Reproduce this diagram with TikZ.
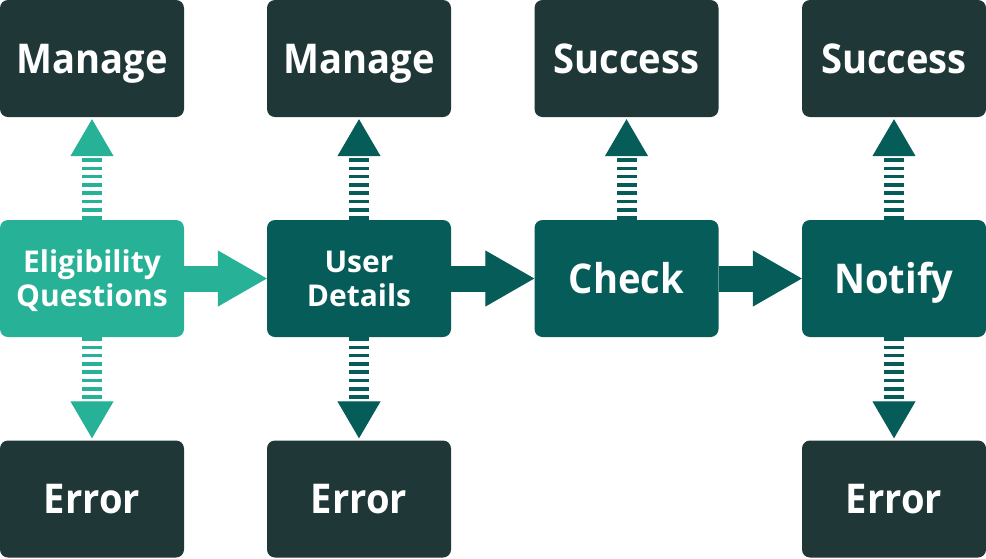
\documentclass[tikz,border=0pt]{standalone}
\usepackage{fontspec}
\setmainfont{Open Sans}
\newfontfamily\stagefont{Open Sans}[FakeStretch=0.93]
\usetikzlibrary{arrows.meta}

\definecolor{stagedark}{HTML}{1F3837}
\definecolor{stageteal}{HTML}{065C58}
\definecolor{stagelight}{HTML}{27B197}

\tikzset{
  stage/.style={fill=#1, rounded corners=8pt, minimum width=184pt, minimum height=117pt,
    inner sep=0pt, text=white, align=center, text height=29.3pt, text depth=0pt,
    font=\stagefont\bfseries\fontsize{41}{44}\selectfont},
  twoline/.style={text height=55.4pt, text depth=0pt, font=\bfseries\fontsize{30}{34}\selectfont},
  flow/.style={draw=#1, line width=26pt, -{Triangle[width=56pt,length=49pt,line width=1pt]}},
  branch/.style={draw=#1, line width=20pt, dash pattern=on 3.5pt off 4.8pt, shorten >=2pt,
    -{Triangle[width=43pt,length=37pt,line width=1pt]}},
}

\begin{document}
\begin{tikzpicture}[x=1pt, y=-1pt]
	\useasboundingbox (0,0) rectangle (986,558);

	% Stages
	\node[stage=stagelight, twoline] (elig) at (92,278.5) {Eligibility\\Questions};
	\node[stage=stageteal, twoline] (user) at (359,278.5) {User\\Details};
	\node[stage=stageteal] (check) at (626.5,278.5) {Check};
	\node[stage=stageteal] (notify) at (894,278.5) {Notify};

	% Outcomes
	\node[stage=stagedark] (manage1) at (92,58.5) {Manage};
	\node[stage=stagedark] (manage2) at (359,58.5) {Manage};
	\node[stage=stagedark] (success1) at (626.5,58.5) {Success};
	\node[stage=stagedark] (success2) at (894,58.5) {Success};
	\node[stage=stagedark] (error1) at (92,499) {Error};
	\node[stage=stagedark] (error2) at (359,499) {Error};
	\node[stage=stagedark] (error3) at (894,499) {Error};

	% Flow
	\draw[flow=stagelight] (elig) -- (user);
	\draw[flow=stageteal] (user) -- (check);
	\draw[flow=stageteal] (check) -- (notify);

	% Branches
	\draw[branch=stagelight] (elig) -- (manage1);
	\draw[branch=stagelight] (elig) -- (error1);
	\draw[branch=stageteal] (user) -- (manage2);
	\draw[branch=stageteal] (user) -- (error2);
	\draw[branch=stageteal] (check) -- (success1);
	\draw[branch=stageteal] (notify) -- (success2);
	\draw[branch=stageteal] (notify) -- (error3);

\end{tikzpicture}
\end{document}
